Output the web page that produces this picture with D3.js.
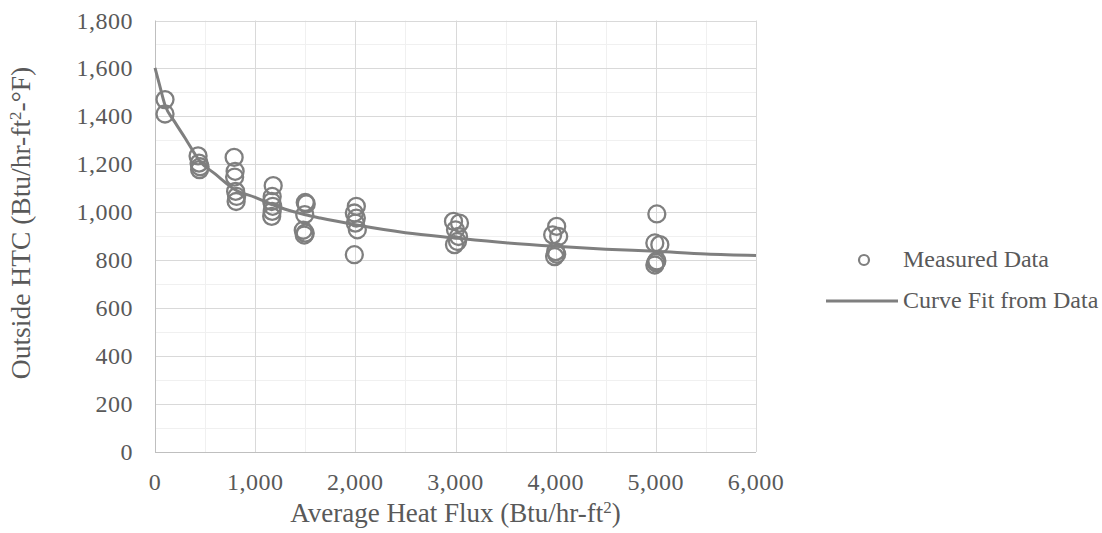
<!DOCTYPE html>
<html lang="en">
<head>
  <meta charset="UTF-8">
  <title>Outside HTC vs Average Heat Flux</title>
  <script src="https://cdn.jsdelivr.net/npm/d3@7"></script>
  <style>
    body { margin: 0; background: #fff; }
    text { font-family: "Liberation Serif", "Times New Roman", serif; fill: #595959; }
  </style>
</head>
<body>
<script>
  // measured points
  const fluxData = [
    100, 100,
    430, 440, 450, 445,
    790, 800, 795, 805, 815, 810,
    1180, 1170, 1165, 1175, 1170, 1165,
    1500, 1510, 1495, 1480, 1500, 1490,
    2010, 1990, 2010, 2000, 2020, 1990,
    2980, 3040, 3000, 3030, 3020, 2990,
    4010, 3970, 4030, 4000, 4010, 3990,
    5010, 4990, 5040, 5010, 5000, 4990
  ];
  const htcData = [
    1470, 1410,
    1235, 1205, 1190, 1178,
    1229, 1171, 1147, 1087, 1066, 1045,
    1111, 1066, 1045, 1025, 1004, 983,
    1041, 1035, 990, 925, 913, 905,
    1025, 997, 976, 955, 927, 823,
    962, 955, 927, 899, 878, 865,
    941, 906, 899, 836, 825, 815,
    993, 872, 865, 797, 790, 780
  ];

  // curve fit
  const fitFlux = [0, 40, 100, 200, 300, 450, 600, 800, 1000, 1150, 1250, 1500, 1650, 2000, 2500, 3000, 3500, 4000, 4500, 5000, 5500, 6000];
  const fitHTC  = [1602, 1540, 1447, 1375, 1310, 1212, 1160, 1094, 1062, 1036, 1020, 990, 976, 948, 915, 893, 873, 858, 846, 837, 826, 820];

  const xTicks = [0, 1000, 2000, 3000, 4000, 5000, 6000];
  const yTicks = [0, 200, 400, 600, 800, 1000, 1200, 1400, 1600, 1800];
  const legendLabels = ["Measured Data", "Curve Fit from Data"];

  const width = 1102, height = 533;
  const x = d3.scaleLinear().domain([0, 6000]).range([155, 756]);
  const y = d3.scaleLinear().domain([0, 1800]).range([452, 20.5]);
  const fmt = d3.format(",");

  const svg = d3.select("body").append("svg")
    .attr("width", width)
    .attr("height", height);

  // minor gridlines
  svg.append("g")
    .selectAll("line")
    .data(d3.range(500, 6001, 1000))
    .enter().append("line")
    .attr("x1", d => Math.round(x(d)) + 0.5).attr("x2", d => Math.round(x(d)) + 0.5)
    .attr("y1", y(0)).attr("y2", y(1800))
    .attr("stroke", "#f0f0f0");
  svg.append("g")
    .selectAll("line")
    .data(d3.range(100, 1800, 200))
    .enter().append("line")
    .attr("x1", x(0)).attr("x2", x(6000))
    .attr("y1", d => Math.round(y(d)) + 0.5).attr("y2", d => Math.round(y(d)) + 0.5)
    .attr("stroke", "#f0f0f0");

  // major gridlines
  svg.append("g")
    .selectAll("line")
    .data(xTicks.slice(1))
    .enter().append("line")
    .attr("x1", d => Math.round(x(d)) + 0.5).attr("x2", d => Math.round(x(d)) + 0.5)
    .attr("y1", y(0)).attr("y2", y(1800))
    .attr("stroke", "#d9d9d9");
  svg.append("g")
    .selectAll("line")
    .data(yTicks.slice(1))
    .enter().append("line")
    .attr("x1", x(0)).attr("x2", x(6000))
    .attr("y1", d => Math.round(y(d)) + 0.5).attr("y2", d => Math.round(y(d)) + 0.5)
    .attr("stroke", "#d9d9d9");

  // axis lines
  svg.append("line")
    .attr("x1", x(0)).attr("x2", x(6000))
    .attr("y1", Math.round(y(0)) + 0.5).attr("y2", Math.round(y(0)) + 0.5)
    .attr("stroke", "#bfbfbf");
  svg.append("line")
    .attr("x1", Math.round(x(0)) + 0.5).attr("x2", Math.round(x(0)) + 0.5)
    .attr("y1", y(0)).attr("y2", y(1800))
    .attr("stroke", "#bfbfbf");

  // tick labels
  svg.append("g")
    .selectAll("text")
    .data(xTicks)
    .enter().append("text")
    .attr("x", d => x(d))
    .attr("y", 490)
    .attr("text-anchor", "middle")
    .style("font-size", "24px")
    .style("letter-spacing", "0.5px")
    .text(d => fmt(d));
  svg.append("g")
    .selectAll("text")
    .data(yTicks)
    .enter().append("text")
    .attr("x", 133)
    .attr("y", d => y(d) + 8)
    .attr("text-anchor", "end")
    .style("font-size", "24px")
    .style("letter-spacing", "0.5px")
    .text(d => fmt(d));

  // axis titles
  const xt = svg.append("text")
    .attr("x", (x(0) + x(6000)) / 2)
    .attr("y", 522)
    .attr("text-anchor", "middle")
    .style("font-size", "27px");
  xt.append("tspan").text("Average Heat Flux (Btu/hr-ft");
  xt.append("tspan").attr("baseline-shift", "super").style("font-size", "17px").text("2");
  xt.append("tspan").text(")");

  const yt = svg.append("text")
    .attr("transform", "translate(30,223) rotate(-90)")
    .attr("text-anchor", "middle")
    .style("font-size", "27.5px");
  yt.append("tspan").text("Outside HTC (Btu/hr-ft");
  yt.append("tspan").attr("baseline-shift", "super").style("font-size", "17px").text("2");
  yt.append("tspan").text("-°F)");

  // curve fit
  svg.append("path")
    .datum(fitFlux.map((f, i) => [f, fitHTC[i]]))
    .attr("fill", "none")
    .attr("stroke", "#7f7f7f")
    .attr("stroke-width", 3)
    .attr("d", d3.line().x(d => x(d[0])).y(d => y(d[1])).curve(d3.curveMonotoneX));

  // measured points
  svg.append("g")
    .selectAll("circle")
    .data(fluxData.map((f, i) => [f, htcData[i]]))
    .enter().append("circle")
    .attr("cx", d => x(d[0]))
    .attr("cy", d => y(d[1]))
    .attr("r", 8.5)
    .attr("fill", "none")
    .attr("stroke", "#7f7f7f")
    .attr("stroke-width", 2.3);

  // legend
  const legend = svg.append("g");
  legend.append("circle")
    .attr("cx", 864).attr("cy", 260).attr("r", 5)
    .attr("fill", "none").attr("stroke", "#7f7f7f").attr("stroke-width", 2.2);
  legend.append("line")
    .attr("x1", 826).attr("x2", 898).attr("y1", 301).attr("y2", 301)
    .attr("stroke", "#7f7f7f").attr("stroke-width", 3);
  legend.selectAll("text")
    .data(legendLabels)
    .enter().append("text")
    .attr("x", 903)
    .attr("y", (d, i) => 267 + i * 41)
    .style("font-size", "24px")
    .text(d => d);
</script>
</body>
</html>
